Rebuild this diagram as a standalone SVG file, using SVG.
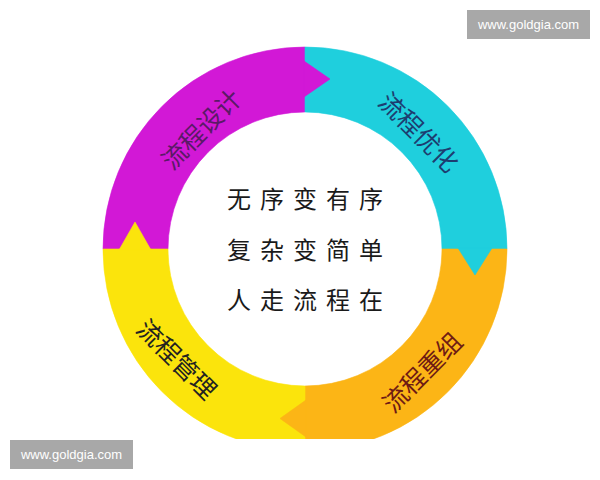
<svg xmlns="http://www.w3.org/2000/svg" width="600" height="480" viewBox="0 0 600 480">
  <defs>
    <clipPath id="cut"><rect x="0" y="0" width="600" height="439"/></clipPath>
  </defs>
  <style>
    .lbl { font-family: "Noto Sans CJK SC", "Noto Sans", sans-serif; font-size: 25px; text-anchor: middle; dominant-baseline: central; }
    .mid { font-family: "Noto Sans CJK SC", "Noto Sans", sans-serif; font-size: 24px; fill: #1a1a1a; letter-spacing: 9px; }
    .wm-box { fill: #a8a8a8; }
    .wm { font-family: "Liberation Sans", Arial, sans-serif; font-size: 13px; fill: #ffffff; text-anchor: middle; }
    .purple { fill: #d218d6; stroke: #d218d6; stroke-width: 0.6; }
    .cyan { fill: #1fcfdd; stroke: #1fcfdd; stroke-width: 0.6; }
    .orange { fill: #fcb516; stroke: #fcb516; stroke-width: 0.6; }
    .yellow { fill: #fbe40c; stroke: #fbe40c; stroke-width: 0.6; }
  </style>
  <rect width="600" height="480" fill="#ffffff"/>
  <g clip-path="url(#cut)">
    <g id="node-design">
      <path class="purple" d="M103,249 A202,202 0 0 1 305,47 L305,112 A137,137 0 0 0 168,249 Z"/>
    </g>
    <g id="node-optimize">
      <path class="cyan" d="M305,47 A202,202 0 0 1 507,249 L442,249 A137,137 0 0 0 305,112 Z"/>
    </g>
    <g id="node-reorganize">
      <path class="orange" d="M507,249 A202,202 0 0 1 305,451 L305,386 A137,137 0 0 0 442,249 Z"/>
    </g>
    <g id="node-manage">
      <path class="yellow" d="M305,451 A202,202 0 0 1 103,249 L168,249 A137,137 0 0 0 305,386 Z"/>
    </g>
    <g id="connectors">
      <polygon class="purple" points="304,61 330,79 304,97"/>
      <polygon class="cyan" points="458,248 475,275 492,248"/>
      <polygon class="orange" points="306,400 280,418.5 306,437"/>
      <polygon class="yellow" points="119,250 135,222 151,250"/>
    </g>
  </g>
  <g id="labels">
    <text class="lbl" fill="#5a1a66" transform="translate(200,128) rotate(-45)">流程设计</text>
    <text class="lbl" fill="#1d3d70" transform="translate(420,131) rotate(45)">流程优化</text>
    <text class="lbl" fill="#6e1a14" transform="translate(421,371) rotate(-45)">流程重组</text>
    <text class="lbl" fill="#222222" transform="translate(178,358) rotate(45)">流程管理</text>
  </g>
  <g id="center-text">
    <text class="mid" x="227" y="208">无序变有序</text>
    <text class="mid" x="227" y="259">复杂变简单</text>
    <text class="mid" x="227" y="309">人走流程在</text>
  </g>
  <g id="watermarks">
    <rect class="wm-box" x="467" y="10" width="123" height="29"/>
    <text class="wm" x="528.5" y="29">www.goldgia.com</text>
    <rect class="wm-box" x="10" y="440" width="123" height="29"/>
    <text class="wm" x="71.5" y="459">www.goldgia.com</text>
  </g>
</svg>
